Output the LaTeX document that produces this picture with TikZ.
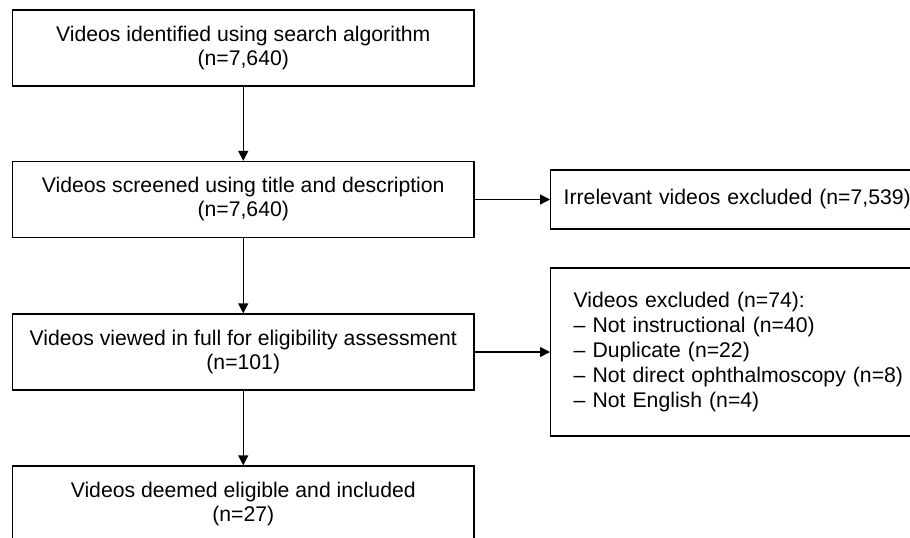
\documentclass[tikz,border=0pt]{standalone}
\usepackage{fontspec}
\setmainfont{Liberation Sans}
\usetikzlibrary{arrows.meta}

\begin{document}
\begin{tikzpicture}[x=0.5pt, y=-0.5pt, line width=0.7pt,
	box/.style={draw, minimum width=230.75pt, minimum height=38pt, align=center, font=\fontsize{10.6}{12}\selectfont},
	side/.style={draw, anchor=west, text width=180pt, align=left, font=\fontsize{10.6}{12.5}\selectfont},
	arr/.style={-{Triangle[length=5pt, width=5pt]}}]
	\useasboundingbox (0,0) rectangle (910,537);
	\clip (0,0) rectangle (910,537);

	\node [box] (A) at (243.25, 48) {Videos identified using search algorithm\\(n=7,640)};
	\node [box] (B) at (243.25, 199.5) {Videos screened using title and description\\(n=7,640)};
	\node [box] (C) at (243.25, 352) {Videos viewed in full for eligibility assessment\\(n=101)};
	\node [box] (D) at (243.25, 504) {Videos deemed eligible and included\\(n=27)};

	\node [side, inner xsep=6.5pt, minimum height=29.5pt] (E) at (550, 199.5) {Irrelevant videos excluded (n=7,539)};
	\node [side, inner xsep=11.5pt, minimum height=84pt] (F) at (550, 352) {Videos excluded (n=74):\\
		-- Not instructional (n=40)\\
		-- Duplicate (n=22)\\
		-- Not direct ophthalmoscopy (n=8)\\
		-- Not English (n=4)};

	\draw [arr] (A) -- (B);
	\draw [arr] (B) -- (C);
	\draw [arr] (C) -- (D);
	\draw [arr] (B.east) -- (E.west);
	\draw [arr] (C.east) -- (F.west);
\end{tikzpicture}
\end{document}
